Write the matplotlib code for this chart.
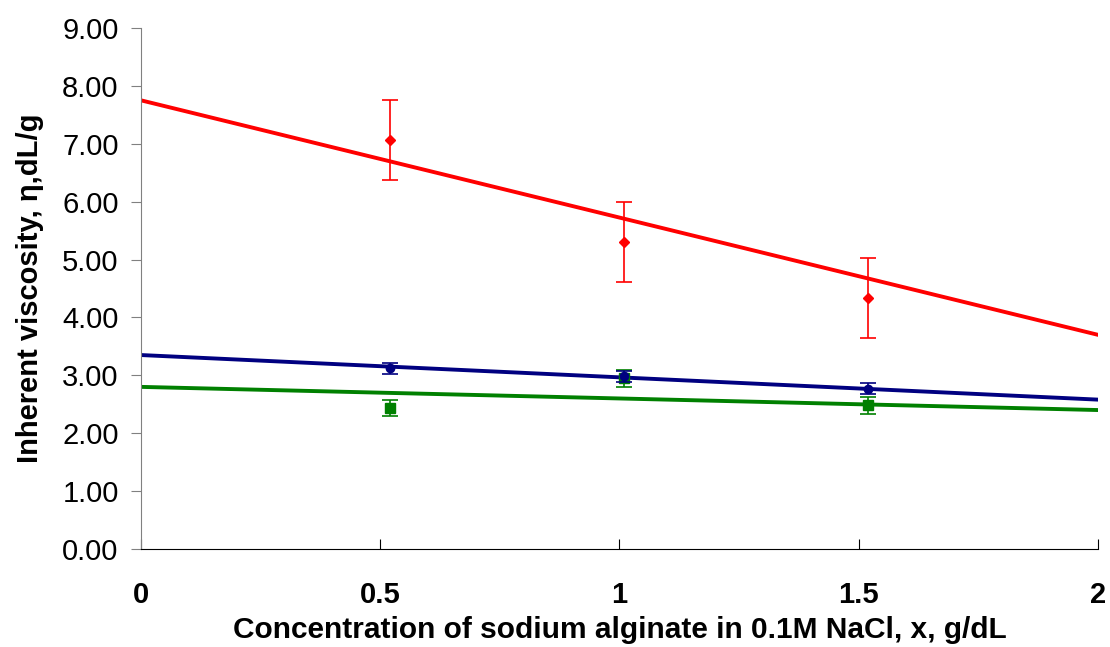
import matplotlib.pyplot as plt
import numpy as np

plt.rcParams['font.family'] = ['Liberation Sans', 'DejaVu Sans']

# datos
conc = [0.52, 1.01, 1.52]
red_y = [7.07, 5.31, 4.33]
red_err = [0.69, 0.69, 0.69]
blue_y = [3.12, 2.98, 2.77]
blue_err = [0.10, 0.10, 0.10]
green_y = [2.43, 2.95, 2.48]
green_err = [0.14, 0.15, 0.14]

# rectas de ajuste (intercepto, pendiente)
red_fit = (7.75, -2.025)
blue_fit = (3.35, -0.385)
green_fit = (2.80, -0.20)

fig = plt.figure(figsize=(11.1, 6.47), dpi=100)
ax = fig.add_axes([0.127, 0.1515, 0.862, 0.8053])

xs = np.array([0, 2])
for (b, m), col in [(red_fit, '#ff0000'), (blue_fit, '#000080'), (green_fit, '#008000')]:
    ax.plot(xs, b + m * xs, color=col, linewidth=2.8, zorder=2)

ax.errorbar(conc, red_y, yerr=red_err, fmt='D', color='#ff0000', ms=5,
            elinewidth=1.2, capsize=6, capthick=1.2, zorder=3)
ax.errorbar(conc, green_y, yerr=green_err, fmt='s', color='#008000', ms=7,
            elinewidth=1.2, capsize=6, capthick=1.2, zorder=3)
ax.errorbar(conc, blue_y, yerr=blue_err, fmt='o', color='#000080', ms=6,
            elinewidth=1.2, capsize=6, capthick=1.2, zorder=4)

ax.set_xlim(0, 2)
ax.set_ylim(0, 9)
ax.set_xticks([0, 0.5, 1, 1.5, 2])
ax.set_xticklabels(['0', '0.5', '1', '1.5', '2'], fontweight='bold')
ax.set_yticks(np.arange(0, 10, 1))
ax.set_yticklabels([f'{v:.2f}' for v in range(10)])
ax.tick_params(axis='x', direction='in', length=7, labelsize=21, pad=23)
ax.tick_params(axis='y', direction='out', length=7, labelsize=21, color='#808080', pad=9)

for s in ['top', 'right']:
    ax.spines[s].set_visible(False)
ax.spines['left'].set_color('#808080')
ax.spines['bottom'].set_color('black')

ax.set_xlabel('Concentration of sodium alginate in 0.1M NaCl, x, g/dL',
              fontsize=21.5, fontweight='bold', labelpad=5)
ax.set_ylabel('Inherent viscosity, η,dL/g', fontsize=21, fontweight='bold', labelpad=13)

fig.savefig('out.png', dpi=100)
